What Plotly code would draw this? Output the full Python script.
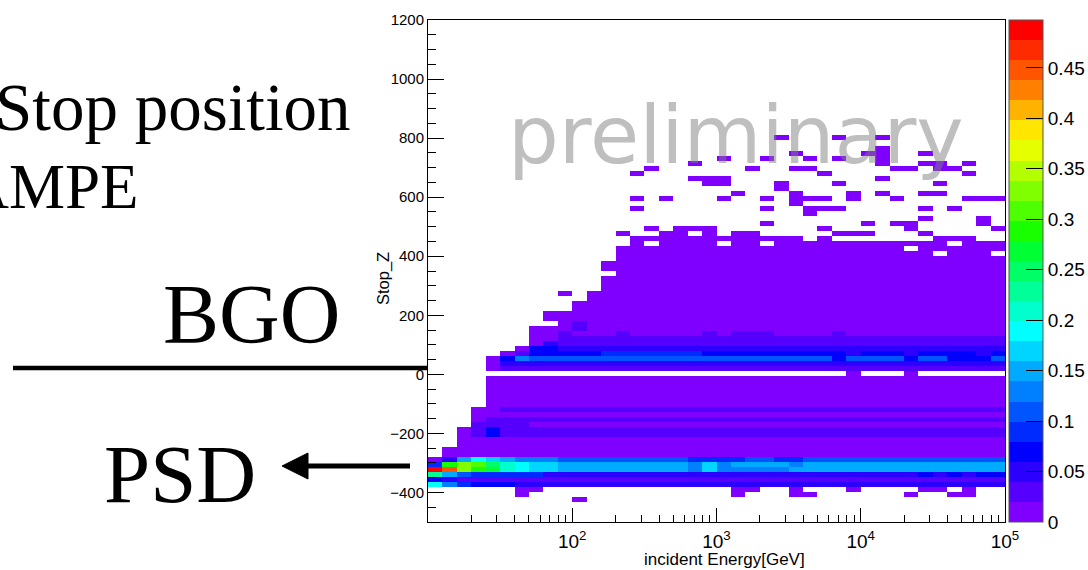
import numpy as np
import plotly.graph_objects as go

# ---------------- binning of the 2D histogram ----------------
X_EDGES = [10 ** (1 + 0.1 * k) for k in range(41)]      # 40 log bins, 10 .. 1e5 GeV
Y_EDGES = [-500 + 17 * k for k in range(101)]           # 100 bins, -500 .. 1200

Z_MAX = 0.4975
N_LEVELS = 25
LEVEL_CHARS = "0123456789abcdefghijklmno"   # colour band index

PALETTE = ["#7F00FF", "#5500FF", "#2B00FF", "#0000FF", "#002BFF", "#0055FF", "#0080FF",
           "#00AAFF", "#00D5FF", "#00FFFF", "#00FFCC", "#00FF99", "#00FF66", "#00FF33",
           "#1AFF00", "#4DFF00", "#80FF00", "#B3FF00", "#E6FF00", "#FFE600", "#FFB300",
           "#FF8000", "#FF5500", "#FF2B00", "#FF0000"]

# rows from top (bin 76) to bottom (bin 0); '.' = empty bin, char = colour band
ROWS_TOP_DOWN = [
    "." * 24 + "0" + "..." + "0" + ".." + "0" + "." * 8,                                   # 76
    "." * 40,                                                                             # 75
    "." * 31 + "0" + "." * 8,                                                             # 74
    "." * 25 + "0" + "...." + "00" + ".." + "0" + "." * 5,                                # 73
    "." * 20 + "0" + ".." + "0" + ".." + "0" + "." + "0" + ".." + "0" + "." * 8,           # 72
    "." * 18 + "0" + "." * 12 + "0" + ".." + "00" + "." + "0" + "..",                     # 71
    "." * 15 + "0" + "." * 6 + "0" + ".." + "00" + "." * 5 + "00" + "." + "00" + "...",   # 70
    "." * 14 + "0" + "." * 12 + "0" + "." * 9 + "0" + "..",                               # 69
    "." * 18 + "000" + "." * 10 + "0" + "." * 8,                                          # 68
    "." * 19 + "00" + "..." + "0" + "..." + "0" + "." * 6 + "0" + "....",                 # 67
    "." * 24 + "0" + "." * 15,                                                            # 66
    "." * 21 + "0" + "..." + "0" + "..." + "0" + "." + "0" + ".." + "00" + "....",        # 65
    "." * 14 + "0.0" + "..." + "0" + ".." + "0" + "." + "000" + "." + "0" + ".." + "0" + "...." + "000",  # 64
    "." * 25 + "0" + "." * 14,                                                            # 63
    "." * 14 + "0" + "." * 8 + "0" + ".." + "000" + "." * 5 + "0" + "." + "0" + "...",    # 62
    "." * 26 + "0" + "." * 13,                                                            # 61
    "." * 34 + "0" + "..." + "0" + ".",                                                   # 60
    "." * 23 + "0" + "." * 6 + "0" + "." + "00" + "...." + "0" + ".",                     # 59
    "." * 15 + "0" + "." + "000" + "." * 7 + "0" + "." * 5 + "0" + "." * 5 + "0",         # 58
    "." * 13 + "0" + ".." + "00" + "." + "0" + "." + "00" + "." * 5 + "000" + "..." + "0" + "." * 5,  # 57
    "." * 14 + "0" * 12 + "." + "0" + "." * 7 + "000" + "..",                             # 56
    "." * 14 + "0" + "." + "0000" + "." + "00" + "." + "0" * 12 + "." + "000",            # 55
    "." * 13 + "0" * 20 + "." + "0" * 6,                                                  # 54
    "." * 13 + "0" * 22 + "." + "000" + ".",                                              # 53
    "." * 13 + "0" * 27,                                                                  # 52
    "." * 12 + "0" * 28,                                                                  # 51
    "." * 12 + "0" * 28,                                                                  # 50
    "." * 13 + "0" * 27,                                                                  # 49
    "." * 12 + "0" * 28,                                                                  # 48
    "." * 12 + "0" * 28,                                                                  # 47
    "." * 12 + "0" * 28,                                                                  # 46
    "." * 9 + "0" + "." + "0" * 29,                                                       # 45
    "." * 11 + "0" * 29,                                                                  # 44
    "." * 10 + "0" * 30,                                                                  # 43
    "." * 10 + "0" * 30,                                                                  # 42
    "." * 8 + "0" * 32,                                                                   # 41
    "." * 8 + "0" * 32,                                                                   # 40
    "." * 9 + "0" + "1" + "0" * 29,                                                       # 39
    "." * 7 + "000" + "1" + "0" * 29,                                                     # 38
    "." * 7 + "001" + "0001" + "00000" + "1" + "0" + "111" + "0000" + "1" + "0" * 11,     # 37
    "." * 7 + "00" + "1" * 31,                                                            # 36
    "." * 7 + "0" + "2" + "1" * 31,                                                       # 35
    "." * 6 + "0" + "33" + "2" * 31,                                                      # 34
    "." * 5 + "0" + "1" + "3" * 5 + "4" * 7 + "3" * 10 + "2" + "333" + "2" + "3333" + "2" + "3",  # 33
    "." * 4 + "0" + "3" + "6" + "5" * 21 + "3" + "5555" + "3" + "55" + "333" + "5",       # 32
    "." * 4 + "0" + "2" * 35,                                                             # 31
    "." * 4 + "0" + "1" * 35,                                                             # 30
    "." * 29 + "0" + "..." + "0" + "." * 6,                                               # 29
    "." * 4 + "0" * 36,                                                                   # 28
    "." * 4 + "0" * 36,                                                                   # 27
    "." * 4 + "0" * 36,                                                                   # 26
    "." * 4 + "0" * 36,                                                                   # 25
    "." * 4 + "0" * 36,                                                                   # 24
    "." * 4 + "0" * 36,                                                                   # 23
    "." * 3 + "00" + "1" * 35,                                                            # 22
    "." * 3 + "0" * 37,                                                                   # 21
    "." * 3 + "0" + "1" * 36,                                                             # 20
    "." * 3 + "1111" + "0" * 33,                                                          # 19
    "." * 2 + "0" + "1" + "3" + "1" * 35,                                                 # 18
    "." * 2 + "0" + "1" + "3" + "1" * 35,                                                 # 17
    "." * 2 + "0" * 38,                                                                   # 16
    "." * 2 + "0" * 38,                                                                   # 15
    "." + "0" * 39,                                                                       # 14
    "." + "0" * 39,                                                                       # 13
    "0" + "2" + "7" + "9" + "8" + "7" + "666" + "5" * 9 + "4" + "444" + "55" + "44" + "5" * 14,     # 12
    "4" + "e" + "g" + "f" + "c" + "a" + "9" + "8" + "8" + "7" * 9 + "6" + "8" + "6" + "7777" + "6" + "7" * 14,  # 11
    "o" + "m" + "g" + "e" + "d" + "a" + "9" + "8" + "8" + "7" * 9 + "6" + "8" + "6" * 5 + "7" * 15,  # 10
    "b" + "7" + "5" + "4" * 5 + "2" * 26 + "3" + "2" + "3" + "2" + "33",                  # 9
    "3" + "2" + "1" * 38,                                                                 # 8
    "9" + "6" + "4" + "333" + "2" * 34,                                                   # 7
    "." * 6 + "00" + "." * 13 + "00" + ".." + "0" + "..." + "0" + "...." + "00" + "." + "0" + "..",  # 6
    "." * 6 + "0" + "." * 14 + "0" + "..." + "00" + "." * 6 + "0" + ".." + "00" + "..",   # 5
    "." * 10 + "0" + "." * 29,                                                            # 4
    "." * 40, "." * 40, "." * 40, "." * 40,                                               # 3..0
]

X_TICKS = [1e2, 1e3, 1e4, 1e5]
X_TICKTEXT = ["10<sup>2</sup>", "10<sup>3</sup>", "10<sup>4</sup>", "10<sup>5</sup>"]
X_MINOR = [m * 10 ** d for d in range(1, 5) for m in range(2, 10)]
Y_TICKS = [-400, -200, 0, 200, 400, 600, 800, 1000, 1200]
CB_TICKS = [0, 0.05, 0.1, 0.15, 0.2, 0.25, 0.3, 0.35, 0.4, 0.45]
CB_TEXT = ["0", "0.05", "0.1", "0.15", "0.2", "0.25", "0.3", "0.35", "0.4", "0.45"]

# ---------------- build z matrix ----------------
n_rows = len(Y_EDGES) - 1
n_cols = len(X_EDGES) - 1
z = [[None] * n_cols for _ in range(n_rows)]
top = len(ROWS_TOP_DOWN) - 1
for k, row in enumerate(ROWS_TOP_DOWN):
    row = row.ljust(n_cols, ".")[:n_cols]
    i = top - k
    for j, ch in enumerate(row):
        if ch != ".":
            z[i][j] = (LEVEL_CHARS.index(ch) + 0.5) * Z_MAX / N_LEVELS

cs = []
for k, c in enumerate(PALETTE):
    cs.append([k / N_LEVELS, c])
    cs.append([(k + 1) / N_LEVELS, c])

# ---------------- geometry helpers (pixel -> paper) ----------------
W, H = 1088, 570
L, R, T, B = 428, 1005, 20, 522


def px(xp):
    return (xp - L) / (R - L)


def py(yp):
    return (B - yp) / (B - T)


fig = go.Figure(go.Heatmap(
    x=X_EDGES, y=Y_EDGES, z=z, zmin=0, zmax=Z_MAX, colorscale=cs,
    hoverongaps=False,
    colorbar=dict(
        thickness=34, thicknessmode="pixels", len=1, lenmode="fraction",
        x=px(1009), xanchor="left", y=0, yanchor="bottom",
        xpad=0, ypad=0, outlinewidth=1, outlinecolor="#555",
        ticks="inside", ticklen=17, tickwidth=1, tickcolor="black",
        tickmode="array", tickvals=CB_TICKS, ticktext=CB_TEXT,
        tickfont=dict(size=19, family="Liberation Sans", color="black"),
    ),
))

fig.update_layout(
    width=W, height=H,
    margin=dict(l=L, r=W - R, t=T, b=H - B, autoexpand=False),
    plot_bgcolor="white", paper_bgcolor="white",
    font=dict(family="Liberation Sans", color="black"),
    showlegend=False,
)

fig.update_xaxes(
    type="log", range=[1, 5], showline=True, linecolor="black", linewidth=1, mirror=True,
    ticks="inside", ticklen=14, tickwidth=1, tickcolor="black",
    tickmode="array", tickvals=X_TICKS, ticktext=X_TICKTEXT,
    tickfont=dict(size=19), showgrid=False, zeroline=False, ticklabelstandoff=2,
    minor=dict(tickmode="array", tickvals=X_MINOR, ticks="inside", ticklen=7,
               tickcolor="black", showgrid=False),
)
fig.update_yaxes(
    range=[-500, 1200], showline=True, linecolor="black", linewidth=1, mirror=True,
    ticks="inside", ticklen=16, tickwidth=1, tickcolor="black",
    tickmode="array", tickvals=Y_TICKS, tickfont=dict(size=15),
    showgrid=False, zeroline=False,
    minor=dict(dtick=50, ticks="inside", ticklen=8, tickcolor="black", showgrid=False),
)

serif = "Liberation Serif"
ann = [
    dict(text="incident Energy[GeV]", x=px(724), y=py(559), font=dict(size=17)),
    dict(text="Stop_Z", x=px(383), y=py(279), textangle=-90, font=dict(size=16.5)),
    dict(text="preliminary", x=px(736), y=py(135),
         font=dict(size=80, family="DejaVu Sans", color="rgba(128,128,128,0.5)")),
    dict(text="Stop position", x=px(353), y=py(107), xanchor="right",
         font=dict(size=67, family=serif)),
    dict(text="DAMPE", x=px(141), y=py(187), xanchor="right",
         font=dict(size=63, family=serif)),
    dict(text="BGO", x=px(342), y=py(315), xanchor="right",
         font=dict(size=84, family=serif)),
    dict(text="PSD", x=px(180), y=py(474), font=dict(size=83, family=serif)),
]
for a in ann:
    a.setdefault("xanchor", "center")
    a.update(xref="paper", yref="paper", yanchor="middle", showarrow=False)
fig.update_layout(annotations=ann)

shapes = [
    dict(type="line", x0=px(13), x1=px(428), y0=py(368), y1=py(368),
         line=dict(color="black", width=4.5)),
    dict(type="line", x0=px(300), x1=px(410), y0=py(466), y1=py(466),
         line=dict(color="black", width=5)),
    dict(type="path",
         path=f"M {px(282)},{py(466)} L {px(308)},{py(453)} L {px(308)},{py(479)} Z",
         fillcolor="black", line=dict(color="black", width=1)),
]
for s in shapes:
    s.update(xref="paper", yref="paper", layer="above")
fig.update_layout(shapes=shapes)

fig.write_html("out.html")
